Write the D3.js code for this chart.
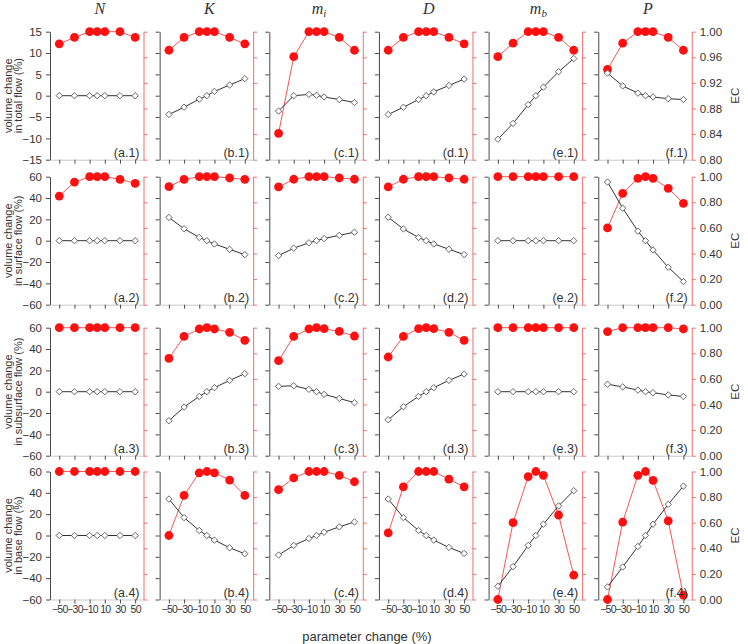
<!DOCTYPE html>
<html><head><meta charset="utf-8">
<script src="https://cdn.jsdelivr.net/npm/d3@7"></script>
<style>body{margin:0;background:#fff}svg{display:block}</style>
</head><body><svg id="c" width="748" height="644"></svg>
<script>
const xValues = [-50, -30, -10, 0, 10, 30, 50];
const xTicks = [-50, -30, -10, 10, 30, 50];
const params = ["N", "K", "m_i", "D", "m_b", "P"];
const letters = ["a", "b", "c", "d", "e", "f"];
const rowNames = ["in total flow (%)", "in surface flow (%)", "in subsurface flow (%)", "in base flow (%)"];

// volume change (%) per parameter, row 1: total flow
const totalVol = [
  [0, 0, 0, 0, 0, 0, 0],
  [-4.4, -2.7, -0.8, 0, 1.0, 2.5, 4.0],
  [-3.6, 0, 0.3, 0.1, -0.3, -0.9, -1.6],
  [-4.4, -2.7, -0.9, 0, 0.9, 2.4, 3.9],
  [-10.2, -6.5, -2.1, 0, 2.0, 5.6, 8.7],
  [5.3, 2.3, 0.6, 0, -0.3, -0.7, -0.9]
];
const totalEC = [
  [0.981, 0.991, 1, 1, 1, 1, 0.991],
  [0.971, 0.991, 1, 1, 1, 0.991, 0.981],
  [0.841, 0.961, 1, 1, 1, 0.991, 0.971],
  [0.971, 0.991, 1, 1, 1, 0.991, 0.981],
  [0.961, 0.982, 1, 1, 1, 0.991, 0.971],
  [0.941, 0.982, 1, 1, 1, 0.991, 0.971]
];
// row 2: surface flow
const surfaceVol = [
  [0, 0, 0, 0, 0, 0, 0],
  [21.8, 11.2, 3.1, 0, -3.1, -8.1, -13.1],
  [-14, -7, -2, 0, 2, 5, 8],
  [22, 11, 3, 0, -3, -8, -13],
  [0, 0, 0, 0, 0, 0, 0],
  [55, 30.5, 9, 0, -8.7, -24.9, -38.3]
];
const surfaceEC = [
  [0.849, 0.958, 1, 1, 1, 0.979, 0.948],
  [0.922, 0.979, 1, 1, 1, 0.99, 0.979],
  [0.92, 0.98, 1, 1, 1, 0.99, 0.98],
  [0.92, 0.98, 1, 1, 1, 0.99, 0.98],
  [1, 1, 1, 1, 1, 1, 1],
  [0.60, 0.87, 0.987, 1, 0.987, 0.909, 0.792]
];
// row 3: subsurface flow
const subsurfaceVol = [
  [0, 0, 0, 0, 0, 0, 0],
  [-27.2, -14.4, -4.4, 0, 3.8, 10.6, 16.9],
  [5.0, 5.6, 2.2, 0, -2.5, -6.3, -10.3],
  [-26.3, -14.1, -4.4, 0, 3.8, 10.6, 16.6],
  [0, 0, 0, 0, 0, 0, 0],
  [7, 4.5, 1.5, 0, -1, -3, -4.5]
];
const subsurfaceEC = [
  [1, 1, 1, 1, 1, 1, 1],
  [0.76, 0.932, 0.99, 1, 0.99, 0.964, 0.901],
  [0.742, 0.932, 0.99, 1, 0.992, 0.971, 0.935],
  [0.771, 0.932, 0.992, 1, 0.992, 0.964, 0.901],
  [1, 1, 1, 1, 1, 1, 1],
  [0.97, 1, 1, 1, 1, 1, 0.99]
];
// row 4: base flow
const baseVol = [
  [0, 0, 0, 0, 0, 0, 0],
  [34.2, 16.8, 4.7, 0, -4.3, -11.5, -17.1],
  [-18.3, -9.3, -2.8, 0, 3.1, 8.1, 12.7],
  [34.2, 16.8, 4.7, 0, -4.3, -11.2, -16.8],
  [-47.6, -29.2, -9.3, 0, 10.6, 27.7, 42],
  [-48.2, -29.5, -10.3, 0, 10.6, 29.2, 46.3]
];
const baseEC = [
  [1, 1, 1, 1, 1, 1, 1],
  [0.5, 0.813, 0.99, 1, 0.99, 0.933, 0.813],
  [0.858, 0.95, 1, 1, 1, 0.97, 0.92],
  [0.52, 0.88, 1, 1, 1, 0.94, 0.88],
  [0, 0.60, 0.96, 1, 0.97, 0.66, 0.19],
  [0, 0.605, 0.97, 1, 0.93, 0.615, 0.034]
];

const volRows = [totalVol, surfaceVol, subsurfaceVol, baseVol];
const ecRows = [totalEC, surfaceEC, subsurfaceEC, baseEC];
const volDomains = [[-15, 15], [-60, 60], [-60, 60], [-60, 60]];
const volTickSets = [[-15, -10, -5, 0, 5, 10, 15], [-60, -40, -20, 0, 20, 40, 60], [-60, -40, -20, 0, 20, 40, 60], [-60, -40, -20, 0, 20, 40, 60]];
const ecDomains = [[0.8, 1.0], [0, 1], [0, 1], [0, 1]];
const ecTickSets = [[0.80, 0.84, 0.88, 0.92, 0.96, 1.00], [0, 0.2, 0.4, 0.6, 0.8, 1.0], [0, 0.2, 0.4, 0.6, 0.8, 1.0], [0, 0.2, 0.4, 0.6, 0.8, 1.0]];

const svg = d3.select("#c");
const colX = d3.range(6).map(i => 50 + i * 109.65);
const rowY = [31.7, 176.7, 327.7, 471.5];
const PW = 93.5, PH = 128;
const AX = "#4a4a4a", RED_AX = "#f07070", TXT = "#333";
const FONT = "'Liberation Sans', Arial, sans-serif";

// column titles
params.forEach((p, c) => {
  const t = svg.append("text")
    .attr("x", colX[c] + PW / 2 + 3).attr("y", 14)
    .attr("text-anchor", "middle")
    .attr("font-family", "'Liberation Serif', 'Times New Roman', serif")
    .attr("font-style", "italic").attr("font-size", 16).attr("fill", TXT);
  const parts = p.split("_");
  t.append("tspan").text(parts[0]);
  if (parts[1]) t.append("tspan").attr("font-size", 11).attr("dy", 3).text(parts[1]);
});

for (let r = 0; r < 4; r++) {
  const y = d3.scaleLinear().domain(volDomains[r]).range([rowY[r] + PH, rowY[r]]);
  const yEC = d3.scaleLinear().domain(ecDomains[r]).range([rowY[r] + PH, rowY[r]]);
  for (let c = 0; c < 6; c++) {
    const x = d3.scaleLinear().domain([-62.2, 61]).range([colX[c], colX[c] + PW]);
    const g = svg.append("g");

    // left axis
    const la = g.append("g").attr("transform", `translate(${colX[c]},0)`)
      .call(d3.axisLeft(y).tickValues(volTickSets[r]).tickSize(4).tickSizeOuter(0)
        .tickFormat(c === 0 ? d3.format("d") : ""));
    la.select(".domain").attr("stroke", AX);
    la.selectAll(".tick line").attr("stroke", AX);
    la.selectAll(".tick text").attr("font-family", FONT).attr("font-size", 11.5).attr("fill", TXT).attr("dx", -1);

    // right EC axis
    const ra = g.append("g").attr("transform", `translate(${colX[c] + PW},0)`)
      .call(d3.axisRight(yEC).tickValues(ecTickSets[r]).tickSize(4).tickSizeOuter(0)
        .tickFormat(c === 5 ? d3.format(".2f") : ""));
    ra.select(".domain").attr("stroke", RED_AX);
    ra.selectAll(".tick line").attr("stroke", RED_AX);
    ra.selectAll(".tick text").attr("font-family", FONT).attr("font-size", 11.5).attr("fill", TXT).attr("dx", 1);

    // bottom axis
    const ba = g.append("g").attr("transform", `translate(0,${rowY[r] + PH})`)
      .call(d3.axisBottom(x).tickValues(xTicks).tickSize(4).tickSizeOuter(0)
        .tickFormat(r === 3 ? d3.format("d") : ""));
    ba.select(".domain").attr("stroke", "#bbb").attr("stroke-width", 0.8);
    ba.selectAll(".tick line").attr("stroke", AX);
    ba.selectAll(".tick text").attr("font-family", FONT).attr("font-size", 10.5)
      .attr("letter-spacing", -0.7).attr("fill", TXT).attr("dy", 6);

    // EC series (red)
    const ec = ecRows[r][c];
    const ecPts = xValues.map((v, i) => [x(v), yEC(ec[i])]);
    g.append("path").attr("d", d3.line()(ecPts))
      .attr("fill", "none").attr("stroke", "#f45555").attr("stroke-width", 1);
    g.selectAll(".dot").data(ecPts).enter().append("circle")
      .attr("cx", d => d[0]).attr("cy", d => d[1]).attr("r", 4.4)
      .attr("fill", "#ff1010");

    // volume series (black, diamonds)
    const vol = volRows[r][c];
    const vPts = xValues.map((v, i) => [x(v), y(vol[i])]);
    g.append("path").attr("d", d3.line()(vPts))
      .attr("fill", "none").attr("stroke", "#333").attr("stroke-width", 1);
    const dsym = d3.symbol().type(d3.symbolDiamond2).size(26);
    g.selectAll(".dia").data(vPts).enter().append("path")
      .attr("d", dsym).attr("transform", d => `translate(${d[0]},${d[1]})`)
      .attr("fill", "#fff").attr("stroke", "#555").attr("stroke-width", 0.9);

    // panel label
    g.append("text").attr("x", colX[c] + PW - 4).attr("y", rowY[r] + PH - 3)
      .attr("text-anchor", "end").attr("font-family", FONT).attr("font-size", 12.5).attr("fill", TXT)
      .text(`(${letters[c]}.${r + 1})`);
  }

  // row y label
  const cy = rowY[r] + PH / 2;
  const yl = svg.append("text").attr("transform", `translate(8,${cy}) rotate(-90)`)
    .attr("text-anchor", "middle").attr("font-family", FONT).attr("font-size", 11).attr("fill", TXT);
  yl.append("tspan").attr("x", 0).attr("dy", 3.5).text("volume change");
  yl.append("tspan").attr("x", 0).attr("dy", 10.5).text(rowNames[r]);

  svg.append("text").attr("transform", `translate(739,${cy}) rotate(-90)`)
    .attr("text-anchor", "middle").attr("font-family", FONT).attr("font-size", 11.5).attr("fill", TXT)
    .text("EC");
}

svg.append("text").attr("x", 367).attr("y", 641).attr("text-anchor", "middle")
  .attr("font-family", FONT).attr("font-size", 13).attr("fill", TXT).text("parameter change (%)");
</script></body></html>
